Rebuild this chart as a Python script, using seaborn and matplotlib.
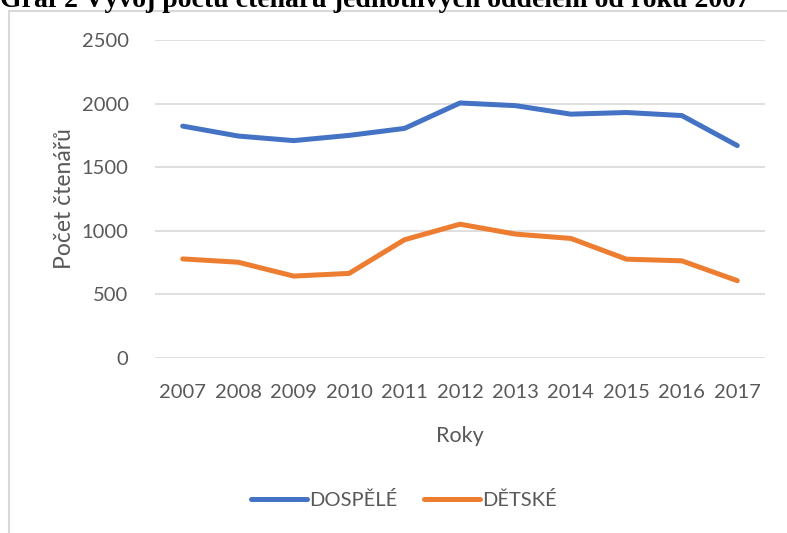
import matplotlib
matplotlib.use("Agg")
import matplotlib.pyplot as plt
import matplotlib.patches as mpatches
import seaborn as sns
import pandas as pd

years = [2007, 2008, 2009, 2010, 2011, 2012, 2013, 2014, 2015, 2016, 2017]
dospele = [1823, 1745, 1709, 1750, 1805, 2005, 1984, 1917, 1930, 1906, 1670]
detske = [779, 753, 644, 665, 930, 1052, 974, 940, 777, 764, 608]
series_names = ["DOSPĚLÉ", "DĚTSKÉ"]
colors = ["#4472C4", "#ED7D31"]
yticks = [0, 500, 1000, 1500, 2000, 2500]

df = pd.DataFrame({
    "Roky": years * 2,
    "Počet": dospele + detske,
    "Oddělení": [series_names[0]] * len(years) + [series_names[1]] * len(years),
})

sns.set_theme(style="white")
plt.rcParams["font.family"] = ["Lato", "DejaVu Sans"]

fig = plt.figure(figsize=(7.87, 5.33), dpi=100)
W, H = 787, 533
ax = fig.add_axes([155 / W, 1 - 358 / H, 610 / W, 318 / H])

sns.lineplot(data=df, x="Roky", y="Počet", hue="Oddělení",
             palette=dict(zip(series_names, colors)), linewidth=3.6,
             ax=ax, legend=True, solid_capstyle="round", solid_joinstyle="round")

ax.set_xlim(2006.5, 2017.5)
ax.set_ylim(0, 2500)
ax.set_yticks(yticks)
ax.set_xticks(years)
ax.set_xticklabels([str(y) for y in years])
ax.yaxis.grid(True, color="#d9d9d9", linewidth=1.2)
ax.xaxis.grid(False)
for s in ax.spines.values():
    s.set_visible(False)
ax.tick_params(axis="both", length=0, labelsize=14.5, colors="#595959")
ax.tick_params(axis="x", pad=19)
ax.tick_params(axis="y", pad=19)
ax.set_xlabel("Roky", fontsize=15.5, color="#595959", labelpad=18)
ax.set_ylabel("Počet čtenářů", fontsize=16.5, color="#595959", labelpad=5)

handles, labels = ax.get_legend_handles_labels()
ax.legend_.remove()
leg = fig.legend(handles, labels, loc="center", bbox_to_anchor=(404 / W, 1 - 500 / H),
                 ncol=2, frameon=False, fontsize=14.5, handlelength=2.8,
                 handletextpad=0.1, columnspacing=1.3, labelcolor="#595959")
for line in leg.get_lines():
    line.set_linewidth(3.6)
    line.set_solid_capstyle("round")

# chart frame
fig.patches.append(mpatches.Rectangle((8.5 / W, -0.1), 1.2, 1 - 11 / H + 0.1,
                                      transform=fig.transFigure, fill=False,
                                      edgecolor="#d9d9d9", linewidth=1.5))

fig.text(0.0, 1 - 7 / H, "Graf 2 Vývoj počtu čtenářů jednotlivých oddělení od roku 2007",
         fontsize=20, fontweight="bold", family=["Liberation Serif", "DejaVu Serif"],
         ha="left", va="baseline", color="black")

fig.savefig("out.png", dpi=100)
